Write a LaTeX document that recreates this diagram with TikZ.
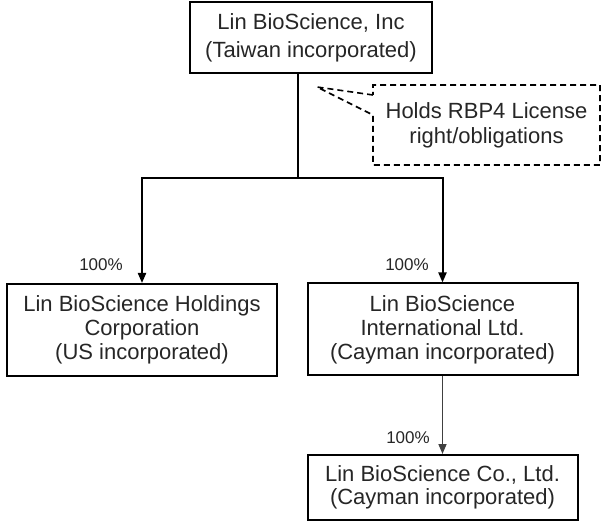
\documentclass[tikz,border=0pt]{standalone}
\usepackage{fontspec}
\setmainfont{Liberation Sans}
\usetikzlibrary{arrows.meta,shapes.callouts}

\begin{document}
\begin{tikzpicture}[x=0.5pt,y=-0.5pt,
    orgbox/.style={draw,line width=1pt,inner sep=0pt,minimum width=135pt,minimum height=46pt,
      align=center,font=\fontsize{11}{12}\selectfont,text=black!85},
    notebox/.style={rectangle callout,draw,dashed,dash pattern=on 3pt off 2pt,line width=0.8pt,
      inner sep=0pt,minimum width=113.5pt,minimum height=40pt,callout pointer width=10pt,
      align=center,font=\fontsize{11}{12.5}\selectfont,text=black!85},
    pct/.style={font=\fontsize{8.5}{9}\selectfont,text=black!85,inner sep=0pt},
    link/.style={line width=1pt,-{Triangle[length=5pt,width=4pt]}}]
    \useasboundingbox (0,0) rectangle (603,522);
    \node[orgbox,minimum width=121pt,minimum height=35.5pt,font=\fontsize{11}{14}\selectfont]
      (parent) at (311,37.5) {Lin BioScience, Inc\\(Taiwan incorporated)};
    \node[orgbox] (holdings) at (142,330) {Lin BioScience Holdings\\Corporation\\(US incorporated)};
    \node[orgbox] (intl) at (442.5,329.5) {Lin BioScience\\International Ltd.\\(Cayman incorporated)};
    \node[orgbox,minimum height=32.5pt,font=\fontsize{11}{11.5}\selectfont]
      (coltd) at (442.5,487.5) {Lin BioScience Co., Ltd.\\(Cayman incorporated)};
    \coordinate (split) at (298,178);
    \coordinate (tip) at (317,87);
    \node[notebox,callout absolute pointer=(tip)] (license) at (486.5,125)
      {Holds RBP4 License\\right/obligations};
    \draw[line width=1pt] (parent.south -| split) -- (split);
    \draw[link] (split) -| (holdings.north);
    \draw[link] (split) -| (intl.north);
    \draw[link,line width=0.8pt,black!75] (intl) -- (coltd);
    \node[pct] (p1) at (101,265) {100\%};
    \node[pct] (p2) at (407,265) {100\%};
    \node[pct] (p3) at (408,438) {100\%};
\end{tikzpicture}
\end{document}
